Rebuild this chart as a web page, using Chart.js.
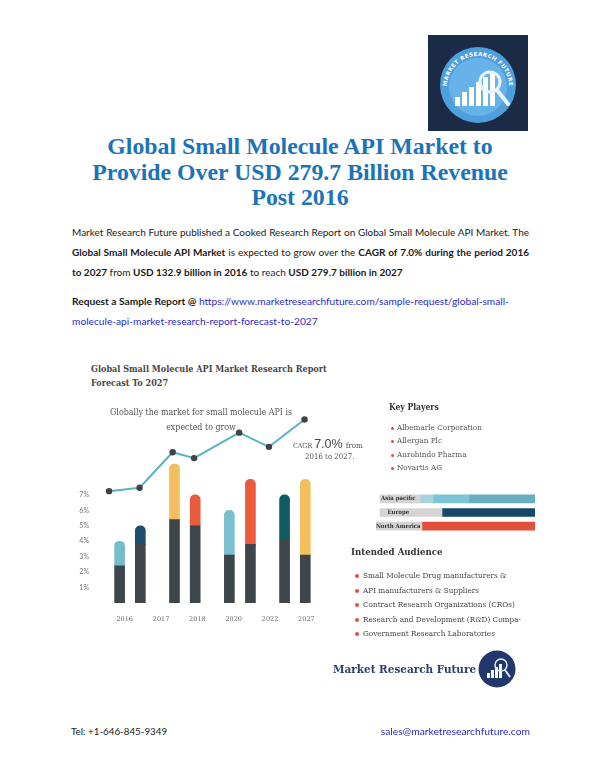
<!DOCTYPE html>
<html>
<head>
<meta charset="utf-8">
<title>Global Small Molecule API Market</title>
<script src="https://cdn.jsdelivr.net/npm/chart.js@4.4.1/dist/chart.umd.min.js"></script>
<style>
  html, body { margin: 0; padding: 0; background: #fff; }
  #page { position: relative; width: 600px; height: 776px; overflow: hidden;
          font-family: Lato, 'Open Sans', sans-serif; color: #1a1a1a; }
  .abs { position: absolute; }
  .slab { font-family: 'DejaVu Serif', serif; font-stretch: condensed; }
  #title { left: 0; width: 600px; top: 134px; text-align: center;
           font-family: 'Liberation Serif', serif; font-weight: bold;
           font-size: 23.8px; line-height: 25.5px; color: #1b73ba; }
  #intro { left: 72px; width: 457px; top: 222px; font-size: 10px; line-height: 20px; }
  #intro div { text-align: justify; text-align-last: justify; white-space: nowrap; }
  #intro div.last { text-align-last: left; }
  #request { left: 72px; top: 291px; font-size: 10.2px; line-height: 20px; }
  a { color: #2b2bcf; text-decoration: none; }
  #subtitle { left: 91px; top: 363px; font-size: 9px; line-height: 13.5px;
              font-weight: bold; color: #474747; }
  #note { left: 101px; width: 200px; top: 405px; text-align: center;
          font-size: 8.8px; line-height: 14.5px; color: #555; }
  #cagr { left: 293px; top: 437px; color: #555; font-size: 7px; white-space: nowrap; }
  #cagr b { font-weight: normal; font-size: 12.5px; font-family: 'Liberation Sans', sans-serif; color: #444; }
  #cagr span { font-size: 8px; margin-left: 3px; }
  #cagr2 { left: 305px; top: 452px; color: #555; font-size: 7.8px; }
  #keyTitle { left: 389px; top: 402px; font-size: 8.5px; font-weight: bold; color: #333; }
  ul { list-style: none; margin: 0; padding: 0; }
  li { position: relative; white-space: nowrap; }
  li::before { content: ''; position: absolute; width: 3px; height: 3px; border-radius: 50%;
               background: #e0503b; }
  #keyList { left: 397px; top: 421px; font-size: 8.1px; line-height: 13.4px; color: #555; }
  #keyList li::before { left: -6px; top: 6px; }
  #audTitle { left: 351px; top: 546px; font-size: 9.6px; color: #333; font-weight: 600; }
  #audList { left: 363px; top: 568px; font-size: 8.1px; line-height: 14.5px; color: #444; }
  #audList li::before { left: -8px; top: 6px; width: 4px; height: 4px; }
  #brand { left: 333px; top: 662px; font-size: 11.6px; font-weight: bold; color: #2d3f6c; }
  #tel { left: 71px; top: 725px; font-size: 9.8px; color: #222; }
  #mail { left: 380px; width: 150px; top: 725px; font-size: 10.3px; text-align: right; }
</style>
</head>
<body>
<div id="page">

  <svg class="abs" style="left:428px;top:35px" width="100" height="96">
    <rect width="100" height="96" fill="#1b2b46"/>
    <circle cx="50" cy="50" r="38" fill="#4f9fdc"/>
    <circle cx="50" cy="52" r="29" fill="#68b2ea"/>
    <path id="ring" d="M 19,52 A 31,31 0 0 1 81,52" fill="none"/>
    <text font-size="5.5" font-weight="bold" fill="#fff" font-family="DejaVu Sans" letter-spacing="0.4">
      <textPath href="#ring" startOffset="50%" text-anchor="middle">MARKET RESEARCH FUTURE</textPath>
    </text>
    <g fill="#fff">
      <rect x="27" y="62" width="5" height="9"/>
      <rect x="34" y="57" width="5" height="14"/>
      <rect x="41" y="52" width="5" height="19"/>
      <rect x="48" y="47" width="5" height="24"/>
      <rect x="55" y="42" width="5" height="29"/>
      <rect x="62" y="38" width="5" height="33"/>
    </g>
    <circle cx="62" cy="47" r="10" fill="none" stroke="#e9f3fb" stroke-width="3"/>
    <line x1="69" y1="55" x2="80" y2="69" stroke="#e9f3fb" stroke-width="4" stroke-linecap="round"/>
  </svg>

  <div id="title" class="abs">Global Small Molecule API Market to<br>Provide Over USD 279.7 Billion Revenue<br>Post 2016</div>

  <div id="intro" class="abs">
    <div>Market Research Future published a Cooked Research Report on Global Small Molecule API Market. The</div>
    <div><b>Global Small Molecule API Market</b> is expected to grow over the <b>CAGR of 7.0% during the period 2016</b></div>
    <div class="last"><b>to 2027</b> from <b>USD 132.9 billion in 2016</b> to reach <b>USD 279.7 billion in 2027</b></div>
  </div>

  <div id="request" class="abs"><b>Request a Sample Report @ </b><a href="#">https://www.marketresearchfuture.com/sample-request/global-small-</a><br><a href="#">molecule-api-market-research-report-forecast-to-2027</a></div>

  <div id="subtitle" class="abs slab">Global Small Molecule API Market Research Report<br>Forecast To 2027</div>
  <canvas id="growth" class="abs" style="left:60px;top:395px" width="270" height="228"></canvas>
  <div id="note" class="abs slab">Globally the market for small molecule API is<br>expected to grow</div>
  <div id="cagr" class="abs slab">CAGR <b>7.0%</b><span>from</span></div>
  <div id="cagr2" class="abs slab">2016 to 2027.</div>

  <div id="keyTitle" class="abs slab">Key Players</div>
  <ul id="keyList" class="abs slab">
    <li>Albemarle Corporation</li>
    <li>Allergan Plc</li>
    <li>Aurobindo Pharma</li>
    <li>Novartis AG</li>
  </ul>
  <canvas id="regions" class="abs" style="left:376px;top:492px" width="159" height="41"></canvas>

  <div id="audTitle" class="abs slab">Intended Audience</div>
  <ul id="audList" class="abs slab">
    <li>Small Molecule Drug manufacturers &amp;</li>
    <li>API manufacturers &amp; Suppliers</li>
    <li>Contract Research Organizations (CROs)</li>
    <li>Research and Development (R&amp;D) Compa-</li>
    <li>Government Research Laboratories</li>
  </ul>

  <div id="brand" class="abs slab">Market Research Future</div>
  <svg class="abs" style="left:477px;top:649px" width="40" height="40">
    <circle cx="20" cy="20" r="18.5" fill="#22386a"/>
    <g fill="#fff">
      <rect x="10" y="24" width="3" height="5"/>
      <rect x="14" y="21" width="3" height="8"/>
      <rect x="18" y="18" width="3" height="11"/>
      <rect x="22" y="15" width="3" height="14"/>
    </g>
    <circle cx="24" cy="16" r="6" fill="none" stroke="#dfe9f5" stroke-width="1.5"/>
    <line x1="28" y1="21" x2="33" y2="28" stroke="#dfe9f5" stroke-width="2"/>
  </svg>

  <div id="tel" class="abs">Tel: +1-646-845-9349</div>
  <div id="mail" class="abs"><a href="#">sales@marketresearchfuture.com</a></div>
</div>

<script>
// growth chart: bars placed on year slots (0 = 2016 ... 5 = 2027)
const years = ['2016', '2017', '2018', '2020', '2022', '2027'];
const barSlots = [-0.14, 0.43, 1.37, 1.94, 2.88, 3.46, 4.40, 4.97];
const baseShare = [2.4, 3.8, 5.4, 5.0, 3.1, 3.8, 4.1, 3.1];
const totalShare = [4.0, 5.0, 9.0, 7.0, 6.0, 8.0, 7.0, 8.0];
const topColors = ['#78bccb', '#1c4d6c', '#f3bf5e', '#e85b3e', '#7cbfce', '#eb5a3b', '#0f5c61', '#f3bf5e'];
const lineSlots = [-0.43, 0.41, 1.32, 1.91, 3.15, 3.97, 4.95];
const lineValues = [7.24, 7.46, 9.76, 9.38, 11.03, 10.11, 11.88];
const yTicks = [1, 2, 3, 4, 5, 6, 7];

// regional share bars (0-100 along the row)
const regions = ['Asia pacific', 'Europe', 'North America'];
const regionLabelBox = [[2.5, 27.7], [2.5, 41.5], [0, 28.9]];
const regionSegA = [[27.7, 35.8], [41.5, 100], [28.9, 100]];
const regionSegB = [[35.8, 58.5], null, null];
const regionSegC = [[58.5, 100], null, null];
const regionSegAColors = ['#a8d2dc', '#15496a', '#e0503b'];

const slabFont = "'DejaVu Serif', serif";

new Chart(document.getElementById('growth'), {
  type: 'bar',
  data: {
    datasets: [
      {
        type: 'line',
        data: lineSlots.map((x, i) => ({ x: x, y: lineValues[i] })),
        borderColor: '#5bb4c4',
        borderWidth: 2,
        pointRadius: 3.2,
        pointBackgroundColor: '#3d4347',
        pointBorderWidth: 0,
        stack: 'line',
        tension: 0
      },
      {
        data: barSlots.map((x, i) => ({ x: x, y: baseShare[i] })),
        backgroundColor: '#3e4649',
        barThickness: 10
      },
      {
        data: barSlots.map((x, i) => ({ x: x, y: +(totalShare[i] - baseShare[i]).toFixed(1) })),
        backgroundColor: topColors,
        barThickness: 10,
        borderRadius: { topLeft: 5, topRight: 5, bottomLeft: 0, bottomRight: 0 },
        borderSkipped: 'bottom'
      }
    ]
  },
  options: {
    responsive: false,
    animation: false,
    layout: { padding: { top: 5, left: 0, right: 0, bottom: 0 } },
    plugins: { legend: { display: false }, tooltip: { enabled: false } },
    scales: {
      x: {
        type: 'linear',
        min: -0.68,
        max: 5.54,
        stacked: true,
        offset: false,
        grid: { display: false },
        border: { display: false },
        afterBuildTicks: (s) => { s.ticks = years.map((_, i) => ({ value: i })); },
        afterFit: (s) => { s.height = 20; },
        ticks: {
          autoSkip: false,
          maxRotation: 0,
          padding: 4,
          color: '#666',
          font: { family: slabFont, size: 6.5, style: 'condensed' },
          callback: (v, i) => years[i]
        }
      },
      y: {
        min: 0,
        max: 13,
        stacked: true,
        grid: { display: false },
        border: { display: false },
        afterBuildTicks: (s) => { s.ticks = yTicks.map(v => ({ value: v })); },
        afterFit: (s) => { s.width = 40; },
        ticks: {
          padding: 3,
          color: '#777',
          font: { family: 'Lato, sans-serif', size: 7 },
          callback: (v) => v + '%'
        }
      }
    }
  }
});

const regionLabels = {
  id: 'regionLabels',
  afterDatasetsDraw(chart) {
    const ctx = chart.ctx;
    const meta = chart.getDatasetMeta(0);
    const x = chart.scales.x.getPixelForValue(14);
    ctx.save();
    ctx.font = "bold condensed 6px " + slabFont;
    ctx.fillStyle = '#333';
    ctx.textAlign = 'center';
    ctx.textBaseline = 'middle';
    regions.forEach((r, i) => ctx.fillText(r, x, meta.data[i].y));
    ctx.restore();
  }
};

new Chart(document.getElementById('regions'), {
  type: 'bar',
  data: {
    labels: regions,
    datasets: [
      { data: regionLabelBox, backgroundColor: '#d4d4d4' },
      { data: regionSegA, backgroundColor: regionSegAColors },
      { data: regionSegB, backgroundColor: '#7cc3d4' },
      { data: regionSegC, backgroundColor: '#6aafc0' }
    ]
  },
  options: {
    indexAxis: 'y',
    responsive: false,
    animation: false,
    layout: { padding: 0 },
    datasets: { bar: { grouped: false, barThickness: 8, borderSkipped: false } },
    plugins: { legend: { display: false }, tooltip: { enabled: false } },
    scales: {
      x: { display: false, min: 0, max: 100 },
      y: { display: false }
    }
  },
  plugins: [regionLabels]
});
</script>
</body>
</html>
